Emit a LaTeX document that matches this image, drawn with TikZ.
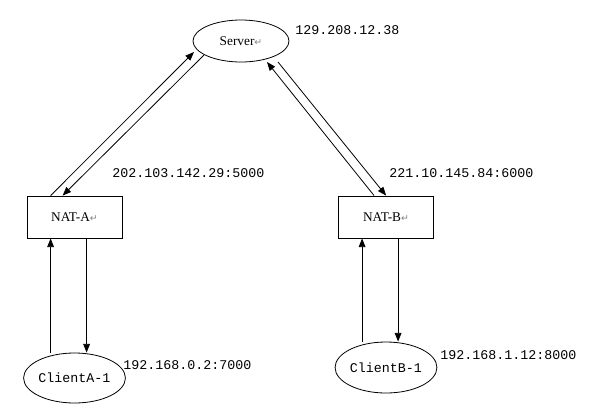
\documentclass[tikz,border=0pt]{standalone}
\usepackage{fontspec}
\setmainfont{Liberation Serif}
\setmonofont{Liberation Mono}
\newfontfamily\djv{DejaVu Sans}
\usetikzlibrary{shapes.geometric,arrows.meta,calc}
\newcommand{\retmark}{{\djv\color{gray}\fontsize{7}{7}\selectfont ↵}}
\begin{document}
\begin{tikzpicture}[x=0.75pt,y=-0.75pt,
  every path/.style={line width=0.6pt},
  oval/.style={draw,ellipse,inner sep=0pt,font=\fontsize{10}{12}\selectfont},
  natbox/.style={draw,rectangle,inner sep=0pt,minimum width=71.25pt,minimum height=31.5pt,font=\fontsize{10}{12}\selectfont},
  addr/.style={anchor=west,inner sep=0pt,font=\ttfamily\fontsize{10}{12}\selectfont},
  arr/.style={-{Triangle[length=6.5pt,width=5pt]}}]
\useasboundingbox (0,0) rectangle (590,415);
\fill[white] (0,0) rectangle (590,415);
% nodes
\node[oval,minimum width=72pt,minimum height=31.5pt] (server) at (241,41) {Server\retmark};
\node[natbox] (natA) at (74.5,217) {NAT-A\retmark};
\node[natbox] (natB) at (386,217) {NAT-B\retmark};
\node[oval,minimum width=72.75pt,minimum height=37.5pt,font=\ttfamily\fontsize{10}{12}\selectfont] (clientA) at (74.5,378) {ClientA-1};
\node[oval,minimum width=73.5pt,minimum height=38.25pt,font=\ttfamily\fontsize{10}{12}\selectfont] (clientB) at (386,367.5) {ClientB-1};
% labels
\node[addr] (lS) at (295,30) {129.208.12.38};
\node[addr] (lA) at (112,173) {202.103.142.29:5000};
\node[addr] (lB) at (389,173) {221.10.145.84:6000};
\node[addr] (lCA) at (123,365) {192.168.0.2:7000};
\node[addr] (lCB) at (440,355) {192.168.1.12:8000};
% coordinates
\coordinate (sL1) at ($(server.center)+(-47,11)$);
\coordinate (sL2) at ($(server.center)+(-37,14)$);
\coordinate (sR1) at ($(server.center)+(26,21)$);
\coordinate (sR2) at ($(server.center)+(37,21)$);
\coordinate (aN1) at ($(natA.north west)+(24,0)$);
\coordinate (aN2) at ($(natA.north west)+(36,0)$);
\coordinate (bN1) at ($(natB.north west)+(36,0)$);
\coordinate (bN2) at ($(natB.north west)+(48,0)$);
\coordinate (aS1) at ($(natA.south west)+(24,0)$);
\coordinate (aS2) at ($(natA.south west)+(60,0)$);
\coordinate (bS1) at ($(natB.south west)+(24,0)$);
\coordinate (bS2) at ($(natB.south west)+(60,0)$);
% connectors
\draw[arr] (aN1) -- (sL1);
\draw[arr] (sL2) -- (aN2);
\draw[arr] (bN1) -- (sR1);
\draw[arr] (sR2) -- (bN2);
\draw[arr] (clientA.north -| aS1) -- (aS1);
\draw[arr] (aS2) -- (clientA.north -| aS2);
\draw[arr] (clientB.north -| bS1) -- (bS1);
\draw[arr] (bS2) -- (clientB.north -| bS2);
\end{tikzpicture}
\end{document}
